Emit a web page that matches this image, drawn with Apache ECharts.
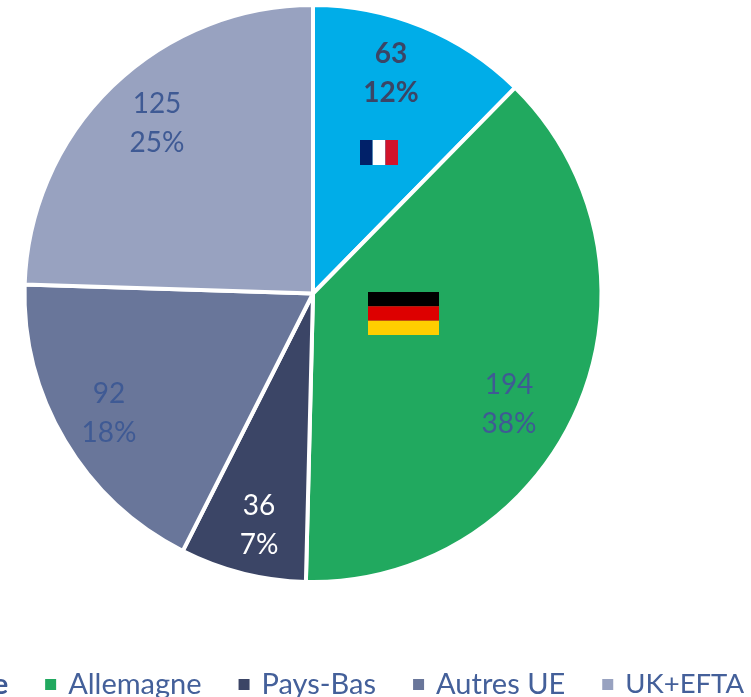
<!DOCTYPE html>
<html><head><meta charset="utf-8">
<style>html,body{margin:0;padding:0;background:#fff}#c{width:751px;height:697px}</style>
<script src="https://cdn.jsdelivr.net/npm/echarts@6/dist/echarts.min.js"></script></head>
<body><div id="c"></div>
<script>
const categories = ['France','Allemagne','Pays-Bas','Autres UE','UK+EFTA'];
const values = [63,194,36,92,125];
const percents = ['12%','38%','7%','18%','25%'];
const colors = ['#00ADE8','#21A95F','#3B4566','#69769A','#98A2C0'];
const labelColors = ['#3B4566','#3F5A94','#FFFFFF','#3F5A94','#3F5A94'];
const labelWeights = ['bold','normal','normal','normal','normal'];
const labelCentres = [[391,73],[509,404],[259,525],[109,413],[157,123]];
const FONT = 'Lato';
const chart = echarts.init(document.getElementById('c'), null, {renderer:'canvas'});
function flag(x,y,w,h,cols,vertical){
  return cols.map((c,i)=>({type:'rect',silent:true,z:10,
    shape: vertical ? {x:x+i*w/cols.length,y,width:w/cols.length,height:h}
                    : {x,y:y+i*h/cols.length,width:w,height:h/cols.length},
    style:{fill:c}}));
}
chart.setOption({
  animation:false,
  backgroundColor:'#fff',
  legend:{
    orient:'horizontal',
    left:-108, top:665, width:1200,
    icon:'rect', itemWidth:13, itemHeight:13, itemGap:35,
    selectedMode:false,
    data:categories,
    formatter:n=>n==='France'?'{b|'+n+'}':(n==='UK+EFTA'?'{u|'+n+'}':n),
    textStyle:{fontFamily:FONT,fontSize:29,color:'#44609A',padding:[0,0,0,6],
      rich:{b:{fontFamily:FONT,fontSize:29,fontWeight:'bold',color:'#3F5A94'},
            u:{fontFamily:FONT,fontSize:27.5,color:'#44609A'}}}
  },
  series:[{
    type:'pie',
    center:[313,293.5],
    radius:[0,288.5],
    startAngle:90,
    clockwise:true,
    data:categories.map((n,i)=>({
      name:n,value:values[i],
      itemStyle:{color:colors[i]},
      label:{color:labelColors[i],fontWeight:labelWeights[i]}
    })),
    itemStyle:{borderColor:'#fff',borderWidth:4},
    label:{
      show:true,position:'inside',
      fontFamily:FONT,fontSize:28,lineHeight:39,
      formatter:p=>p.value+'\n'+percents[p.dataIndex]
    },
    labelLine:{show:false},
    labelLayout:p=>({x:labelCentres[p.dataIndex][0],y:labelCentres[p.dataIndex][1],align:'center',verticalAlign:'middle'})
  }],
  graphic:[
    ...flag(360,140,38,25,['#012169','#FFFFFF','#D2132A'],true),
    ...flag(368,292,71,43,['#000000','#DD0000','#FFCE00'],false)
  ]
});
</script></body></html>
